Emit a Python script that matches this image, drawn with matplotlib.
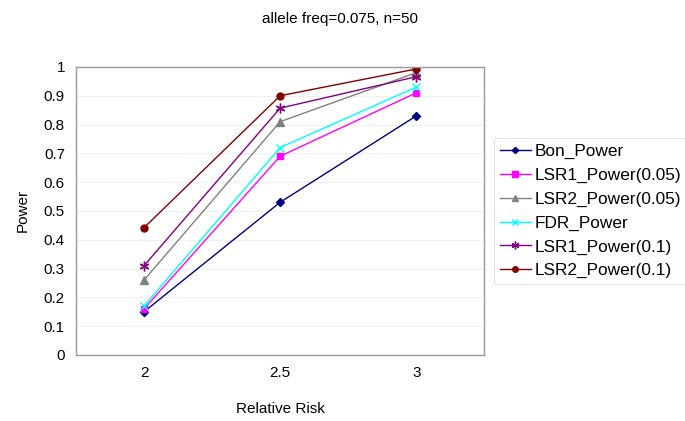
import matplotlib
matplotlib.use("Agg")
import matplotlib.pyplot as plt
import numpy as np

plt.rcParams['font.family'] = ['Liberation Sans', 'DejaVu Sans']

relative_risk = ["2", "2.5", "3"]
bon_power = [0.15, 0.53, 0.83]
lsr1_power_05 = [0.16, 0.69, 0.91]
lsr2_power_05 = [0.26, 0.81, 0.98]
fdr_power = [0.17, 0.72, 0.93]
lsr1_power_1 = [0.31, 0.857, 0.966]
lsr2_power_1 = [0.442, 0.90, 0.993]

series = [
    ("Bon_Power", bon_power, "#000080", "D", 4),
    ("LSR1_Power(0.05)", lsr1_power_05, "#FF00FF", "s", 5),
    ("LSR2_Power(0.05)", lsr2_power_05, "#808080", "^", 6),
    ("FDR_Power", fdr_power, "#00FFFF", "x", 6),
    ("LSR1_Power(0.1)", lsr1_power_1, "#800080", (6, 2, 0), 7),
    ("LSR2_Power(0.1)", lsr2_power_1, "#800000", "o", 5),
]

fig = plt.figure(figsize=(6.85, 4.21), dpi=100)
ax = fig.add_axes([0.111, 0.157, 0.596, 0.684])

x = np.arange(len(relative_risk))
for name, vals, col, mk, ms in series:
    ax.plot(x, vals, color=col, marker=mk, markersize=ms, linewidth=1,
            markeredgecolor=col, markerfacecolor=col, label=name)

ax.set_xlim(-0.5, 2.5)
ax.set_ylim(0, 1)
ax.set_xticks(x)
ax.set_xticklabels(relative_risk)
ax.set_yticks(np.arange(0, 1.01, 0.1))
ax.set_yticklabels(["0", "0.1", "0.2", "0.3", "0.4", "0.5", "0.6", "0.7", "0.8", "0.9", "1"])
ax.tick_params(length=0, labelsize=11, pad=8)
ax.grid(axis='y', color='#f0f0f0', linewidth=0.8)
ax.set_axisbelow(True)
for s in ax.spines.values():
    s.set_color('#999999')
    s.set_linewidth(1)

ax.set_xlabel("Relative Risk", fontsize=11, labelpad=16)
ax.set_ylabel("Power", fontsize=11, labelpad=10)
fig.text(0.497, 0.955, "allele freq=0.075, n=50", ha='center', va='center', fontsize=11)

leg = ax.legend(loc='upper left', bbox_to_anchor=(0.721, 0.672), bbox_transform=fig.transFigure,
                fontsize=12.4, frameon=True, fancybox=False, borderaxespad=0,
                handlelength=1.8, handletextpad=0.2, labelspacing=0.5, borderpad=0.35,
                markerscale=0.8)
leg.get_frame().set_edgecolor('#dddddd')
leg.get_frame().set_linewidth(0.8)

fig.savefig("out.png", dpi=100)
